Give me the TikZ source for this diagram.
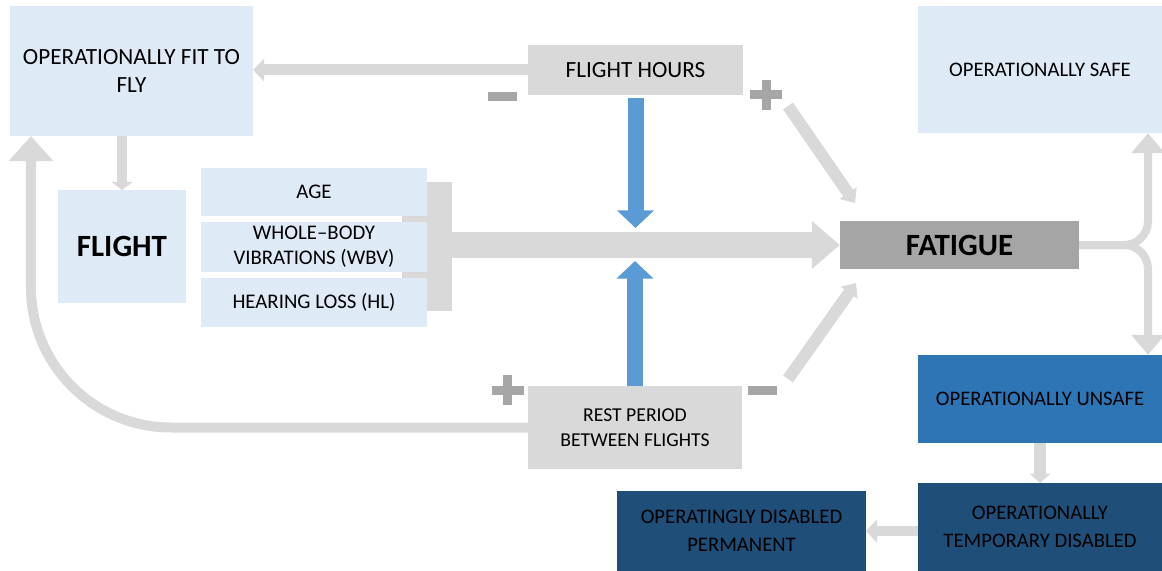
\documentclass[tikz,border=0pt]{standalone}
\usepackage{fontspec}
\setmainfont{Carlito}
\usepackage{tikz}
\usetikzlibrary{arrows.meta,calc}
\definecolor{boxblue}{RGB}{222,235,247}
\definecolor{boxgray}{RGB}{217,217,217}
\definecolor{fatiguegray}{RGB}{165,165,165}
\definecolor{unsafeblue}{RGB}{46,117,182}
\definecolor{darkblue}{RGB}{31,78,121}
\definecolor{arrowgray}{RGB}{217,217,217}
\definecolor{signgray}{RGB}{166,166,166}
\definecolor{hlblue}{RGB}{91,155,213}

\begin{document}
\begin{tikzpicture}[x=0.025cm, y=-0.025cm,
	box/.style={fill=#1, rectangle, inner sep=0pt, outer sep=0pt, align=center, font=\fontsize{14.7}{20}\selectfont},
	sidefont/.style={font=\fontsize{14.8}{18}\selectfont},
	restfont/.style={font=\fontsize{14}{18}\selectfont},
	wide/.style={font=\fontsize{16.5}{20}\selectfont},
	bigfont/.style={font=\bfseries\fontsize{22}{24}\selectfont},
	ga/.style n args={3}{draw=arrowgray, line width=#1, -{Triangle[length=#2, width=#3]}},
	ba/.style={draw=hlblue, line width=0.4cm, -{Triangle[length=0.44cm, width=0.9cm]}},
	plussign/.pic={\fill[signgray] (-16,-4.5) rectangle (16,4.5); \fill[signgray] (-4.5,-15) rectangle (4.5,15);},
	minussign/.pic={\fill[signgray] (-14.5,-4.5) rectangle (14.5,4.5);}]

	\useasboundingbox (0,0) rectangle (1162,571);

	% left column
	\node[box=boxblue, minimum width=6.075cm, minimum height=3.25cm, wide] (fit) at (131.5,71) {OPERATIONALLY FIT TO\\FLY};
	\node[box=boxblue, minimum width=3.2cm, minimum height=2.825cm, bigfont] (flight) at (122,246.5) {FLIGHT};

	% factors and bracket
	\node[box=arrowgray, minimum width=1.25cm, minimum height=3.225cm] (brk) at (427,246.5) {};
	\node[box=boxblue, minimum width=5.65cm, minimum height=1.2cm, sidefont] (age) at (314,192) {AGE};
	\node[box=boxblue, minimum width=5.65cm, minimum height=1.25cm, sidefont] (wbv) at (314,247) {WHOLE--BODY\\VIBRATIONS (WBV)};
	\node[box=boxblue, minimum width=5.65cm, minimum height=1.225cm, sidefont] (hl) at (314,302.5) {HEARING LOSS (HL)};

	% middle
	\node[box=boxgray, minimum width=5.375cm, minimum height=1.25cm, wide] (fh) at (635.5,70) {FLIGHT HOURS};
	\node[box=boxgray, minimum width=5.35cm, minimum height=2.075cm, restfont] (rest) at (635,427.5) {REST PERIOD\\BETWEEN FLIGHTS};
	\node[box=fatiguegray, minimum width=5.975cm, minimum height=1.2cm, bigfont] (fatigue) at (959.5,245) {FATIGUE};

	% right column
	\node[box=boxblue, minimum width=6.1cm, minimum height=3.175cm] (safe) at (1040,69.5) {OPERATIONALLY SAFE};
	\node[box=unsafeblue, minimum width=6.1cm, minimum height=2.2cm] (unsafe) at (1040,399) {OPERATIONALLY UNSAFE};
	\node[box=darkblue, minimum width=6.1cm, minimum height=2.2cm] (temp) at (1040,527) {OPERATIONALLY\\TEMPORARY DISABLED};
	\node[box=darkblue, minimum width=6.225cm, minimum height=2cm] (perm) at (741.5,531) {OPERATINGLY DISABLED\\PERMANENT};

	\coordinate (loopx) at (31,0);
	\coordinate (brx) at (1148,0);
	\coordinate (fha) at (788,106);
	\coordinate (fhb) at (855,203);
	\coordinate (rsa) at (788,379);
	\coordinate (rsb) at (856,283);
	\coordinate (dtip) at (635.5,228);
	\coordinate (utip) at (635,261);

	% grey arrows
	\draw[ga={0.275cm}{0.275cm}{0.55cm}] (fh.west) -- (fh.west -| fit.east);
	\draw[ga={0.25cm}{0.2cm}{0.525cm}] (flight.north |- fit.south) -- (flight.north);
	\draw[ga={0.25cm}{0.625cm}{1.075cm}, rounded corners=3.5cm] (rest.west) -| (loopx |- fit.south);
	\draw[ga={0.65cm}{0.7cm}{1.15cm}] (brk.east |- fatigue.west) -- (fatigue.west);
	\draw[ga={0.3cm}{0.3cm}{0.5cm}] (fha) -- (fhb);
	\draw[ga={0.3cm}{0.3cm}{0.5cm}] (rsa) -- (rsb);
	\draw[ga={0.2cm}{0.5cm}{0.8cm}, rounded corners=0.6cm] (fatigue.east) -| (brx |- safe.south);
	\draw[ga={0.2cm}{0.5cm}{0.8cm}, rounded corners=0.6cm] (fatigue.east) -| (brx |- unsafe.north);
	\draw[ga={0.3cm}{0.225cm}{0.5cm}] (unsafe) -- (temp);
	\draw[ga={0.25cm}{0.275cm}{0.575cm}] (temp.west |- perm.east) -- (perm.east);

	% blue arrows
	\draw[ba, shorten <=0.075cm] (fh.south) -- (dtip);
	\draw[ba] (rest.north) -- (utip);

	% signs
	\pic at (766,95) {plussign};
	\pic at (507.5,390) {plussign};
	\pic at (502,97) {minussign};
	\pic at (762,390) {minussign};

\end{tikzpicture}
\end{document}
